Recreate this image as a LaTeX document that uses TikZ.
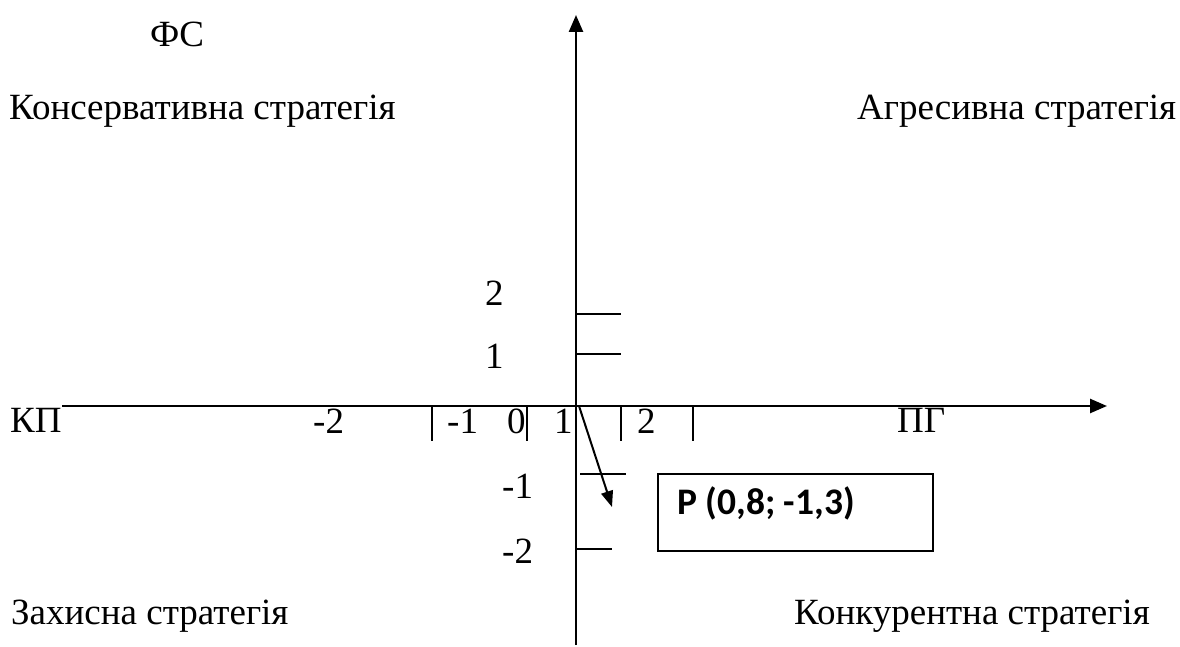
\documentclass[tikz,border=0pt]{standalone}
\usepackage{fontspec}
\setmainfont{Liberation Serif}
\newfontfamily\boxfont{Carlito}
\usetikzlibrary{arrows.meta}
\begin{document}
\begin{tikzpicture}[x=1pt,y=-1pt,
  lbl/.style={anchor=base west,inner sep=0pt,font=\fontsize{37}{42}\selectfont},
  axis/.style={line width=2.5pt,-{Triangle[length=17pt,width=14pt]}},
  tick/.style={line width=2pt},
  pbox/.style={draw,line width=2pt,minimum width=275pt,minimum height=77pt,anchor=north west,inner sep=0pt}]
\useasboundingbox (0,0) rectangle (1180,647);
% axes
\coordinate (yb) at (576,645);
\coordinate (yt) at (576,15);
\coordinate (xl) at (62,406);
\coordinate (xr) at (1107,406);
\coordinate (o) at (579,406);
\draw[axis] (yb) -- (yt);
\draw[axis] (xl) -- (xr);
% horizontal ticks
\foreach \x/\n in {432/a,527/b,621/c,693/d}{
  \coordinate (t\n1) at (\x,406);
  \coordinate (t\n2) at (\x,441);
  \draw[tick] (t\n1) -- (t\n2);
}
% vertical ticks
\coordinate (v1a) at (576,314); \coordinate (v1b) at (621,314);
\coordinate (v2a) at (576,354); \coordinate (v2b) at (621,354);
\coordinate (v3a) at (580,474); \coordinate (v3b) at (626,474);
\coordinate (v4a) at (576,549); \coordinate (v4b) at (612,549);
\draw[tick] (v1a) -- (v1b);
\draw[tick] (v2a) -- (v2b);
\draw[tick] (v3a) -- (v3b);
\draw[tick] (v4a) -- (v4b);
% labels
\node[lbl] (fs) at (150,47) {ФС};
\node[lbl] (kons) at (9,120) {Консервативна стратегія};
\node[lbl] (agr) at (857,120) {Агресивна стратегія};
\node[lbl] (zah) at (11,624) {Захисна стратегія};
\node[lbl] (konk) at (794,624) {Конкурентна стратегія};
\node[lbl] (kp) at (10,432) {КП};
\node[lbl] (pg) at (897,432) {ПГ};
\node[lbl] (hm2) at (313,433) {-2};
\node[lbl] (hm1) at (447,433) {-1};
\node[lbl] (h0) at (507,433) {0};
\node[lbl] (h1) at (554,433) {1};
\node[lbl] (h2) at (637,433) {2};
\node[lbl] (v2) at (485,305) {2};
\node[lbl] (v1) at (485,368) {1};
\node[lbl] (vm1) at (502,498) {-1};
\node[lbl] (vm2) at (502,563) {-2};
% point box
\node[pbox] (P) at (657,473) {};
\node[anchor=base west,inner sep=0pt,font=\boxfont\bfseries\fontsize{37.5}{42}\selectfont] (pt) at (677,514) {P (0,8; -1,3)};
\coordinate (ptip) at (612,507);
\draw[line width=2pt,-{Triangle[length=16pt,width=12pt]}] (o) -- (ptip);
\end{tikzpicture}
\end{document}
